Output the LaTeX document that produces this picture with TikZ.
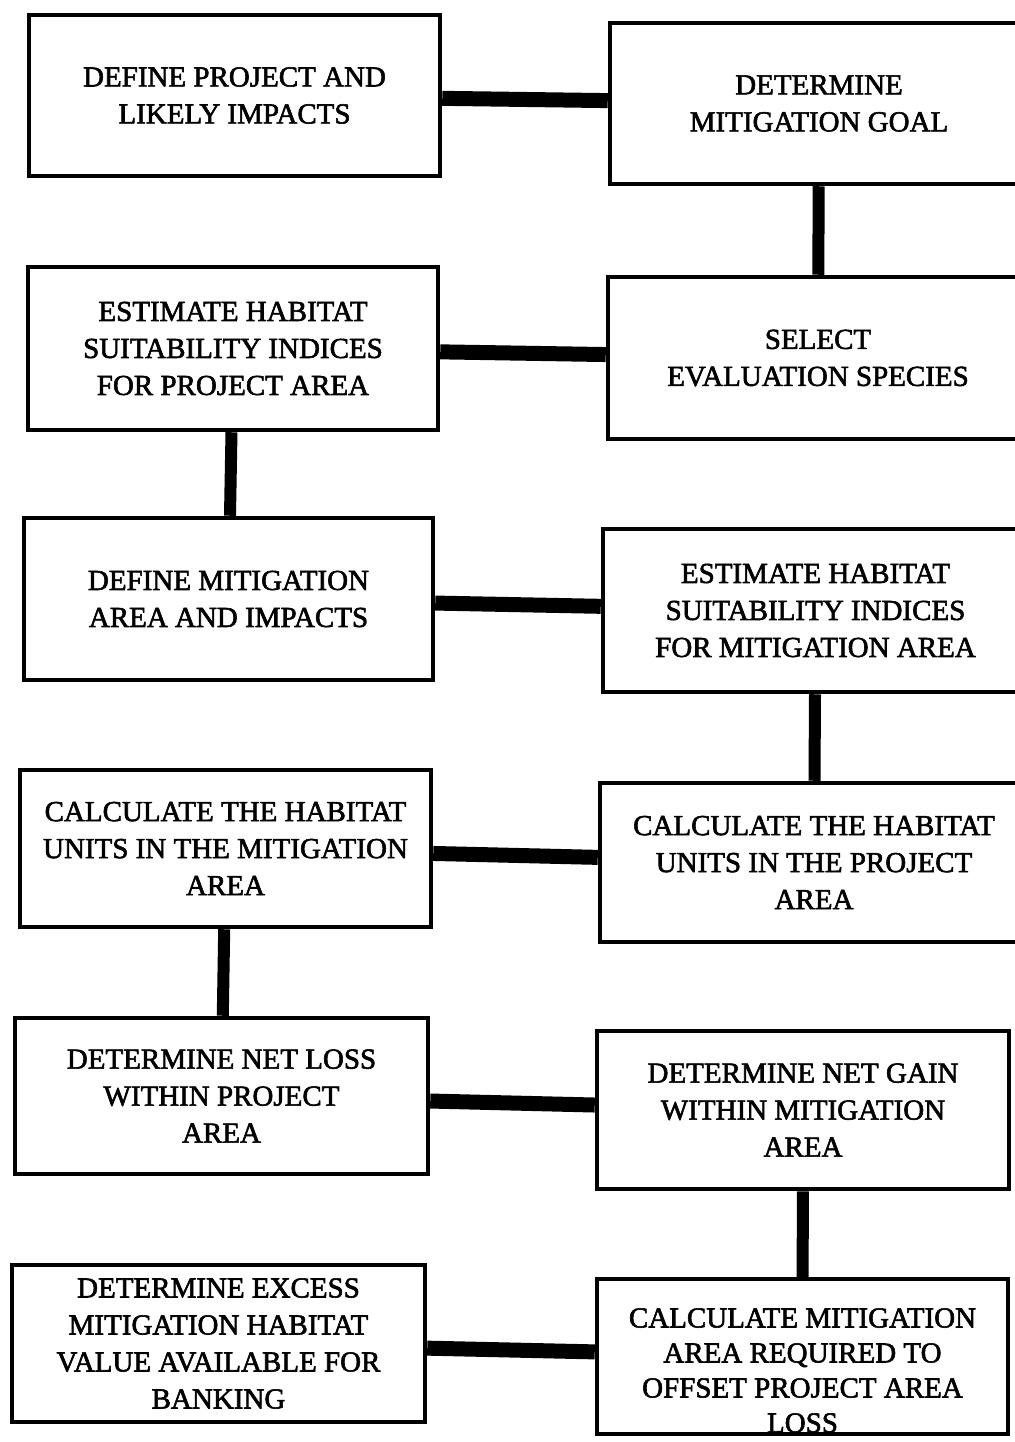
\documentclass[tikz,border=0pt]{standalone}
\usepackage{fontspec}
\setmainfont[FakeBold=2]{Liberation Serif}
\usetikzlibrary{calc}

\begin{document}
\begin{tikzpicture}[x=1pt, y=-1pt,
		box/.style={draw, line width=4.5pt, align=center, inner sep=0pt, font=\fontsize{29}{37}\selectfont},
		link/.style={line width=15pt},
		vlink/.style={line width=12pt}]
		\useasboundingbox[fill=white] (0,0) rectangle (1014,1442);
		% left column
		\node[box, minimum width=411pt, minimum height=161pt] (l1) at (234.5,95.5) {DEFINE PROJECT AND\\LIKELY IMPACTS};
		\node[box, minimum width=410pt, minimum height=163pt] (l2) at (233,348.5) {ESTIMATE HABITAT\\SUITABILITY INDICES\\FOR PROJECT AREA};
		\node[box, minimum width=409pt, minimum height=162pt] (l3) at (228.5,599) {DEFINE MITIGATION\\AREA AND IMPACTS};
		\node[box, minimum width=411pt, minimum height=157pt] (l4) at (225.5,848.5) {CALCULATE THE HABITAT\\UNITS IN THE MITIGATION\\AREA};
		\node[box, minimum width=413pt, minimum height=156pt] (l5) at (221.5,1096) {DETERMINE NET LOSS\\WITHIN PROJECT\\AREA};
		\node[box, minimum width=413pt, minimum height=157pt] (l6) at (218.5,1343.5) {DETERMINE EXCESS\\MITIGATION HABITAT\\VALUE AVAILABLE FOR\\BANKING};
		% right column
		\node[box, minimum width=418pt, minimum height=161pt] (r1) at (819,103.5) {DETERMINE\\MITIGATION GOAL};
		\node[box, minimum width=420pt, minimum height=162pt] (r2) at (818,358) {SELECT\\EVALUATION SPECIES};
		\node[box, minimum width=425pt, minimum height=163pt] (r3) at (815.5,610.5) {ESTIMATE HABITAT\\SUITABILITY INDICES\\FOR MITIGATION AREA};
		\node[box, minimum width=428pt, minimum height=159pt] (r4) at (814,862.5) {CALCULATE THE HABITAT\\UNITS IN THE PROJECT\\AREA};
		\node[box, minimum width=412pt, minimum height=158pt] (r5) at (803,1110) {DETERMINE NET GAIN\\WITHIN MITIGATION\\AREA};
		\node[box, minimum width=411pt, minimum height=155pt] (r6) at (802.5,1356.5) {};
		\node[align=center, inner sep=0pt, font=\fontsize{29}{35}\selectfont] (r6txt) at ([yshift=-14pt]r6.center) {CALCULATE MITIGATION\\AREA REQUIRED TO\\OFFSET PROJECT AREA\\LOSS};
		% links
		\draw[link] (l1) -- (r1);
		\draw[link] (l2) -- (r2);
		\draw[link] (l3) -- (r3);
		\draw[link] (l4) -- (r4);
		\draw[link] (l5) -- (r5);
		\draw[link] (l6) -- (r6);
		\draw[vlink] (r1) -- (r2);
		\draw[vlink] (l2) -- (l3);
		\draw[vlink] (r3) -- (r4);
		\draw[vlink] (l4) -- (l5);
		\draw[vlink] (r5) -- (r6);
	\end{tikzpicture}
\end{document}
